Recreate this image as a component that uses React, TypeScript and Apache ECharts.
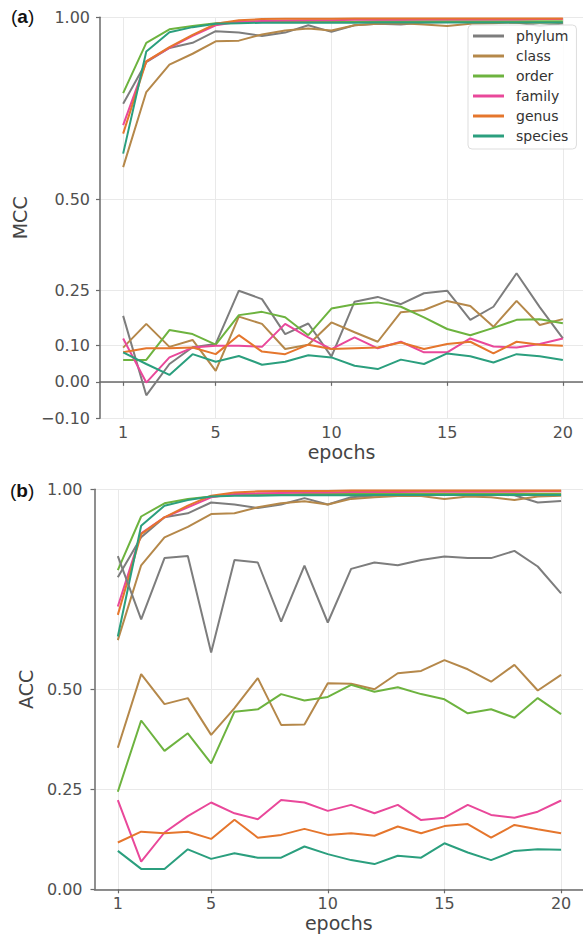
import React, { useEffect, useRef } from "react";
import * as echarts from "echarts";

const epochs = [1, 2, 3, 4, 5, 6, 7, 8, 9, 10, 11, 12, 13, 14, 15, 16, 17, 18, 19, 20];
const taxa = ["phylum", "class", "order", "family", "genus", "species"];
const colors = ["#7d7d7d", "#b5884a", "#6db33f", "#e9489a", "#e5762d", "#2b9f7e"];

const xTicks = [1, 5, 10, 15, 20];
const mccTicks = [-0.1, 0, 0.1, 0.25, 0.5, 1.0];
const accTicks = [0, 0.25, 0.5, 1.0];

// MCC (panel a) – upper curves
const mccHigh = {
  phylum: [0.763, 0.877, 0.916, 0.930, 0.962, 0.958, 0.949, 0.958, 0.978, 0.960, 0.978, 0.982, 0.980, 0.986, 0.987, 0.987, 0.987, 0.986, 0.976, 0.983],
  class: [0.589, 0.795, 0.870, 0.900, 0.934, 0.936, 0.953, 0.964, 0.969, 0.964, 0.978, 0.982, 0.984, 0.980, 0.976, 0.982, 0.984, 0.986, 0.985, 0.986],
  order: [0.792, 0.930, 0.967, 0.976, 0.984, 0.987, 0.988, 0.988, 0.988, 0.988, 0.988, 0.989, 0.989, 0.989, 0.989, 0.989, 0.989, 0.989, 0.989, 0.989],
  family: [0.704, 0.879, 0.916, 0.949, 0.978, 0.988, 0.990, 0.991, 0.992, 0.992, 0.993, 0.993, 0.993, 0.994, 0.994, 0.994, 0.994, 0.994, 0.995, 0.995],
  genus: [0.681, 0.879, 0.918, 0.952, 0.982, 0.992, 0.995, 0.996, 0.996, 0.996, 0.997, 0.997, 0.997, 0.997, 0.997, 0.997, 0.997, 0.997, 0.997, 0.997],
  species: [0.626, 0.906, 0.959, 0.973, 0.982, 0.984, 0.985, 0.985, 0.985, 0.985, 0.985, 0.986, 0.986, 0.986, 0.986, 0.986, 0.986, 0.986, 0.986, 0.986],
};
// MCC (panel a) – lower curves
const mccLow = {
  phylum: [0.181, -0.037, 0.049, 0.095, 0.104, 0.250, 0.227, 0.131, 0.160, 0.069, 0.220, 0.233, 0.213, 0.243, 0.250, 0.170, 0.206, 0.298, 0.205, 0.119],
  class: [0.094, 0.159, 0.096, 0.115, 0.030, 0.179, 0.159, 0.090, 0.102, 0.163, 0.136, 0.110, 0.191, 0.197, 0.222, 0.208, 0.151, 0.222, 0.156, 0.172],
  order: [0.060, 0.060, 0.142, 0.131, 0.102, 0.183, 0.192, 0.177, 0.128, 0.201, 0.213, 0.218, 0.206, 0.177, 0.145, 0.128, 0.148, 0.170, 0.172, 0.161],
  family: [0.119, -0.002, 0.067, 0.094, 0.099, 0.099, 0.096, 0.159, 0.122, 0.090, 0.122, 0.092, 0.110, 0.081, 0.081, 0.119, 0.097, 0.094, 0.104, 0.119],
  genus: [0.081, 0.092, 0.092, 0.094, 0.076, 0.128, 0.083, 0.076, 0.102, 0.090, 0.092, 0.094, 0.108, 0.090, 0.104, 0.110, 0.078, 0.110, 0.102, 0.099],
  species: [0.081, 0.049, 0.019, 0.076, 0.055, 0.071, 0.047, 0.055, 0.073, 0.067, 0.044, 0.035, 0.061, 0.049, 0.078, 0.070, 0.053, 0.076, 0.070, 0.060],
};
// ACC (panel b) – upper curves
const accHigh = {
  phylum: [0.780, 0.880, 0.930, 0.940, 0.967, 0.962, 0.953, 0.962, 0.978, 0.962, 0.980, 0.984, 0.984, 0.986, 0.987, 0.987, 0.987, 0.985, 0.967, 0.971],
  class: [0.623, 0.810, 0.880, 0.906, 0.938, 0.940, 0.955, 0.965, 0.970, 0.962, 0.976, 0.980, 0.983, 0.983, 0.976, 0.982, 0.980, 0.973, 0.982, 0.984],
  order: [0.798, 0.932, 0.965, 0.976, 0.982, 0.986, 0.987, 0.987, 0.988, 0.988, 0.988, 0.988, 0.989, 0.989, 0.989, 0.989, 0.989, 0.989, 0.989, 0.989],
  family: [0.707, 0.890, 0.930, 0.955, 0.980, 0.988, 0.990, 0.991, 0.992, 0.992, 0.993, 0.993, 0.993, 0.994, 0.994, 0.994, 0.994, 0.994, 0.995, 0.995],
  genus: [0.686, 0.888, 0.930, 0.959, 0.984, 0.992, 0.995, 0.996, 0.996, 0.996, 0.997, 0.997, 0.997, 0.997, 0.997, 0.997, 0.997, 0.997, 0.997, 0.997],
  species: [0.632, 0.909, 0.959, 0.973, 0.982, 0.984, 0.984, 0.985, 0.985, 0.985, 0.985, 0.986, 0.986, 0.986, 0.986, 0.986, 0.986, 0.986, 0.986, 0.986],
};
// ACC (panel b) – lower curves
const accLow = {
  phylum: [0.833, 0.675, 0.828, 0.833, 0.592, 0.823, 0.817, 0.669, 0.809, 0.667, 0.801, 0.817, 0.810, 0.823, 0.832, 0.828, 0.828, 0.846, 0.807, 0.740],
  class: [0.354, 0.538, 0.463, 0.478, 0.386, 0.453, 0.528, 0.411, 0.412, 0.515, 0.514, 0.500, 0.540, 0.546, 0.573, 0.550, 0.519, 0.561, 0.497, 0.536],
  order: [0.244, 0.422, 0.346, 0.390, 0.315, 0.444, 0.450, 0.488, 0.472, 0.481, 0.511, 0.494, 0.505, 0.488, 0.475, 0.440, 0.450, 0.429, 0.478, 0.438],
  family: [0.223, 0.069, 0.142, 0.183, 0.217, 0.190, 0.175, 0.223, 0.217, 0.196, 0.211, 0.190, 0.211, 0.173, 0.179, 0.211, 0.186, 0.179, 0.194, 0.222],
  genus: [0.117, 0.144, 0.140, 0.144, 0.126, 0.174, 0.129, 0.136, 0.151, 0.136, 0.140, 0.134, 0.157, 0.140, 0.158, 0.163, 0.129, 0.161, 0.150, 0.140],
  species: [0.096, 0.051, 0.051, 0.100, 0.076, 0.090, 0.079, 0.079, 0.107, 0.088, 0.073, 0.063, 0.084, 0.079, 0.115, 0.092, 0.073, 0.096, 0.100, 0.099],
};

const FONT = "DejaVu Sans";
const fmt = (v: number) => (v < 0 ? "\u2212" + Math.abs(v).toFixed(2) : v.toFixed(2));

function xAxis(gridIndex: number, max: number) {
  return {
    type: "value",
    gridIndex,
    min: 0,
    max,
    name: "epochs",
    nameLocation: "middle",
    nameGap: 24,
    nameTextStyle: { fontFamily: FONT, fontSize: 19, color: "#444" },
    axisLine: { show: true, lineStyle: { color: "#6a6a6a", width: 1.5 } },
    axisTick: { show: true, length: 4, customValues: xTicks, lineStyle: { color: "#6a6a6a", width: 1.2 } },
    axisLabel: { customValues: xTicks, margin: 6, fontFamily: FONT, fontSize: 16, color: "#505050", formatter: (v: number) => String(v) },
    splitLine: { show: true, lineStyle: { color: "#e9e9e9", width: 1 } },
  };
}

function yAxis(gridIndex: number, min: number, max: number, ticks: number[], name: string, nameGap: number, margin: number) {
  return {
    type: "value",
    gridIndex,
    min,
    max,
    name,
    nameLocation: "middle",
    nameGap,
    nameRotate: 90,
    nameTextStyle: { fontFamily: FONT, fontSize: 19, color: "#444" },
    axisLine: { show: true, lineStyle: { color: "#6a6a6a", width: 1.5 } },
    axisTick: { show: true, length: 4, customValues: ticks, lineStyle: { color: "#6a6a6a", width: 1.2 } },
    axisLabel: { customValues: ticks, margin, fontFamily: FONT, fontSize: 16, color: "#505050", formatter: (v: number) => fmt(v) },
    splitLine: { show: true, lineStyle: { color: "#e9e9e9", width: 1 } },
  };
}

function buildSeries(data: Record<string, number[]>, idx: number) {
  return taxa.map((t, i) => ({
    type: "line",
    name: t,
    xAxisIndex: idx,
    yAxisIndex: idx,
    data: epochs.map((e, k) => [e, data[t][k]]),
    showSymbol: false,
    symbol: "none",
    color: colors[i],
    lineStyle: { color: colors[i], width: 2 },
    itemStyle: { color: colors[i] },
    z: 2,
  }));
}

export default function App() {
  const ref = useRef<HTMLDivElement>(null);
  useEffect(() => {
    document.body.style.margin = "0";
    const chart = echarts.init(ref.current!, null, { renderer: "svg" });
    chart.setOption({
      animation: false,
      backgroundColor: "#ffffff",
      grid: [
        { left: 100, top: 17.3, right: 0, height: 401 },
        { left: 94.5, top: 489.3, right: 0, height: 400 },
      ],
      xAxis: [xAxis(0, 20.87), xAxis(1, 20.94)],
      yAxis: [
        yAxis(0, -0.1, 1.0, mccTicks, "MCC", 71, 10),
        yAxis(1, 0, 1.0, accTicks, "ACC", 59, 12),
      ],
      legend: {
        data: taxa,
        orient: "vertical",
        left: 468,
        top: 25,
        padding: [1, 8, 3, 5],
        itemWidth: 31,
        itemHeight: 3,
        itemGap: 0,
        icon: "rect",
        backgroundColor: "rgba(255,255,255,0.85)",
        borderColor: "#dddddd",
        borderWidth: 1,
        borderRadius: 4,
        textStyle: { fontFamily: FONT, fontSize: 14, color: "#333", lineHeight: 20, padding: [0, 0, 0, 7] },
      },
      graphic: [
        {
          type: "text",
          left: 11,
          top: 7,
          style: {
            text: "{n|(}{b|a}{n|)}",
            rich: {
              n: { fontFamily: "Liberation Sans", fontSize: 19, fill: "#111" },
              b: { fontFamily: "Liberation Sans", fontSize: 19, fontWeight: "bold", fill: "#111" },
            },
          },
        },
        {
          type: "text",
          left: 10,
          top: 481,
          style: {
            text: "{n|(}{b|b}{n|)}",
            rich: {
              n: { fontFamily: "Liberation Sans", fontSize: 19, fill: "#111" },
              b: { fontFamily: "Liberation Sans", fontSize: 19, fontWeight: "bold", fill: "#111" },
            },
          },
        },
      ],
      series: [
        ...buildSeries(mccHigh, 0),
        ...buildSeries(mccLow, 0),
        ...buildSeries(accHigh, 1),
        ...buildSeries(accLow, 1),
      ],
    });
    return () => chart.dispose();
  }, []);
  return <div ref={ref} style={{ width: 583, height: 938, position: "absolute", left: 0, top: 0 }} />;
}
